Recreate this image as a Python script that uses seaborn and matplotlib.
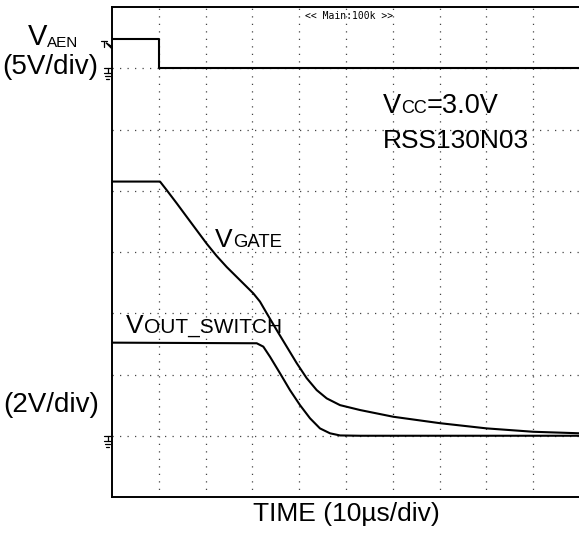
import numpy as np
import pandas as pd
import matplotlib
matplotlib.use("Agg")
import matplotlib.pyplot as plt
import matplotlib.transforms as mtransforms
import seaborn as sns

# ---- trace data (time in microseconds, level in volts) ----
aen_time = [0, 10.0, 10.0, 100]
aen_volts = [2.42, 2.42, 0.0, 0.0]

gate_time = [0, 10.26, 11.69, 13.83, 15.96, 18.10, 20.24, 22.37, 24.51, 27.35,
             30.19, 31.62, 33.06, 35.19, 37.33, 39.47, 41.60, 43.74, 45.88,
             48.72, 52.99, 60.11, 70.09, 80.07, 90.02, 100.0]
gate_volts = [8.30, 8.30, 8.02, 7.59, 7.15, 6.71, 6.27, 5.87, 5.51, 5.08,
              4.65, 4.38, 4.00, 3.45, 2.91, 2.37, 1.88, 1.49, 1.22,
              1.00, 0.84, 0.62, 0.41, 0.24, 0.13, 0.08]

out_time = [0, 30.92, 32.33, 33.76, 35.90, 38.03, 40.17, 42.31, 44.44, 46.58,
            48.72, 52.99, 100.0]
out_volts = [3.04, 3.02, 2.91, 2.58, 2.04, 1.49, 1.00, 0.57, 0.24, 0.08,
             0.01, 0.0, 0.0]

# scope channel setup: ground position (divisions from bottom) and V/div
CH1_GROUND, CH1_SCALE = 7, 5.0
CH2_GROUND, CH2_SCALE = 1, 2.0

W, H = 579, 533
sns.set_theme(style="white")
plt.rcParams["font.family"] = ["Liberation Sans", "DejaVu Sans"]

fig = plt.figure(figsize=(W / 100, H / 100), dpi=100)
ax = fig.add_axes([112 / W, (H - 497) / H, 468 / W, 490 / H])


def to_div(volts, ground, scale):
    return ground + np.asarray(volts) / scale


traces = [
    (aen_time, to_div(aen_volts, CH1_GROUND, CH1_SCALE)),
    (gate_time, to_div(gate_volts, CH2_GROUND, CH2_SCALE)),
    (out_time, to_div(out_volts, CH2_GROUND, CH2_SCALE)),
]
for t, d in traces:
    df = pd.DataFrame({"t": t, "div": d})
    sns.lineplot(data=df, x="t", y="div", ax=ax, color="black", lw=1.5,
                 sort=False, estimator=None, solid_joinstyle="round")

ax.set_xlim(0, 100)
ax.set_ylim(0, 8)
ax.set_xticks(np.arange(10, 100, 10))
ax.set_yticks(np.arange(1, 8))
ax.tick_params(length=0, labelbottom=False, labelleft=False)
ax.set_xlabel("")
ax.set_ylabel("")
ax.grid(True, color="#444444", linestyle=(0, (1, 5)), linewidth=0.9)
for side in ["top", "left", "bottom"]:
    ax.spines[side].set_color("black")
    ax.spines[side].set_linewidth(1.4)
ax.spines["right"].set_visible(False)


# ground reference markers on the left edge (drawn in pixel offsets)
def ground_marker(level):
    tr = (mtransforms.Affine2D().scale(1, -1)
          + mtransforms.ScaledTranslation(0, level, ax.transData))
    segs = [((-8, -1), (0, 0)), ((-4.5, -4.5), (0, 5)), ((-8, -1), (5, 5)),
            ((-7, -2), (8, 8)), ((-6, -3), (11, 11))]
    for xs, ys in segs:
        ax.plot(xs, ys, color="black", lw=0.9, transform=tr, clip_on=False)


ground_marker(CH1_GROUND)
ground_marker(CH2_GROUND)

# trigger level marker
trig = (mtransforms.Affine2D().scale(1, -1)
        + mtransforms.ScaledTranslation(0, CH1_GROUND + 2.0 / CH1_SCALE,
                                        ax.transData))
ax.plot([-11, -5], [-3, -3], color="black", lw=0.9, transform=trig, clip_on=False)
ax.plot([-8, -8], [-3, 3], color="black", lw=0.9, transform=trig, clip_on=False)
ax.fill([-6, 0, 0], [-1, 3, 5], color="black", transform=trig, clip_on=False)

renderer = fig.canvas.get_renderer()


def ftext(x, y, parts, **kw):
    """Draw text pieces one after another on a shared baseline (pixels)."""
    for item in parts:
        s, size = item[0], item[1]
        dy = item[2] if len(item) > 2 else 0
        t = fig.text(x / W, 1 - (y + dy) / H, s, fontsize=size, va="baseline",
                     ha="left", color="black", **kw)
        x = t.get_window_extent(renderer).x1


# channel labels
ftext(28, 45, [("V", 21), ("AEN", 11, 2)])
ftext(2, 74, [("(5V/div)", 20)])
ftext(3, 412, [("(2V/div)", 20)])

ftext(215, 247, [("V", 19), ("GATE", 13.3)])
ftext(126, 333, [("V", 19), ("OUT_SWITCH", 15)])

ftext(383, 113, [("V", 19.5), ("CC", 13), ("=3.0V", 19.5)])
ftext(383, 148, [("RSS130N03", 19)])

ftext(253, 521, [("TIME (10\u00b5s/div)", 19)])

ftext(305, 19, [("<< Main:100k >>", 7)], family="DejaVu Sans Mono")

fig.savefig("out.png", dpi=100)
